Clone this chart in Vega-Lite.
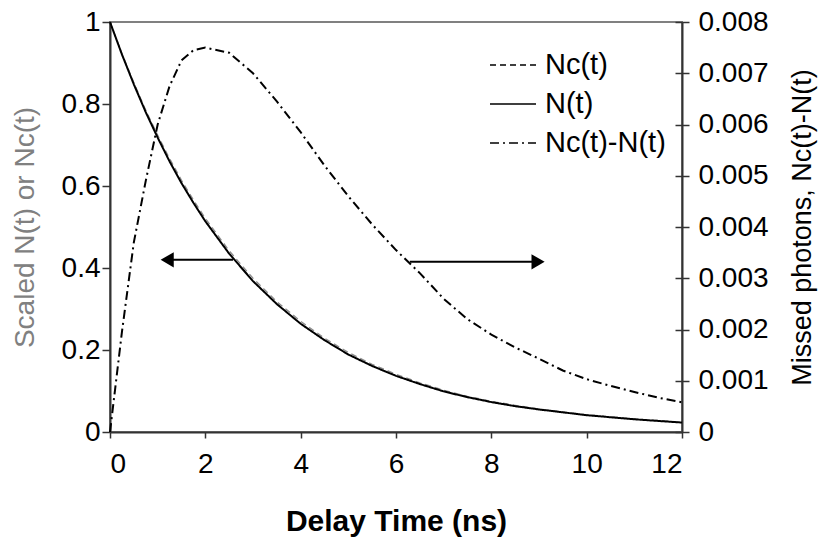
{
  "$schema": "https://vega.github.io/schema/vega-lite/v6.json",
  "width": 572,
  "height": 410,
  "autosize": {"type": "none"},
  "padding": {"left": 110, "top": 22, "right": 136, "bottom": 109},
  "background": "white",
  "config": {
    "font": "Liberation Sans",
    "view": {"stroke": "#808080", "strokeWidth": 2},
    "axis": {
      "grid": false,
      "domainColor": "#333333",
      "domainWidth": 2,
      "tickColor": "#333333",
      "tickWidth": 1.5,
      "labelColor": "black",
      "labelFont": "Liberation Sans",
      "labelFontSize": 28,
      "titleFont": "Liberation Sans",
      "titleFontSize": 27,
      "titleFontWeight": "normal",
      "titleColor": "black"
    }
  },
  "datasets": {
    "curves": [
      {"t": 0, "N": 1.0, "Nc": 1.0, "D": 0},
      {"t": 0.25, "N": 0.921, "Nc": 0.923, "D": 0.00195},
      {"t": 0.5, "N": 0.848, "Nc": 0.852, "D": 0.0037},
      {"t": 0.75, "N": 0.78, "Nc": 0.785, "D": 0.0049},
      {"t": 1, "N": 0.718, "Nc": 0.724, "D": 0.006},
      {"t": 1.25, "N": 0.66, "Nc": 0.667, "D": 0.00675},
      {"t": 1.5, "N": 0.607, "Nc": 0.614, "D": 0.00725},
      {"t": 1.75, "N": 0.559, "Nc": 0.566, "D": 0.00745},
      {"t": 2, "N": 0.514, "Nc": 0.521, "D": 0.0075},
      {"t": 2.5, "N": 0.435, "Nc": 0.442, "D": 0.0074},
      {"t": 3, "N": 0.368, "Nc": 0.375, "D": 0.007},
      {"t": 3.5, "N": 0.312, "Nc": 0.318, "D": 0.00645},
      {"t": 4, "N": 0.264, "Nc": 0.27, "D": 0.00585},
      {"t": 4.5, "N": 0.224, "Nc": 0.229, "D": 0.0052},
      {"t": 5, "N": 0.189, "Nc": 0.194, "D": 0.0046},
      {"t": 5.5, "N": 0.161, "Nc": 0.165, "D": 0.00405},
      {"t": 6, "N": 0.137, "Nc": 0.141, "D": 0.00355},
      {"t": 6.5, "N": 0.117, "Nc": 0.12, "D": 0.0031},
      {"t": 7, "N": 0.099, "Nc": 0.102, "D": 0.0026},
      {"t": 7.5, "N": 0.085, "Nc": 0.087, "D": 0.0022},
      {"t": 8, "N": 0.073, "Nc": 0.075, "D": 0.0019},
      {"t": 8.5, "N": 0.063, "Nc": 0.065, "D": 0.00165},
      {"t": 9, "N": 0.055, "Nc": 0.056, "D": 0.00143},
      {"t": 9.5, "N": 0.048, "Nc": 0.049, "D": 0.0012},
      {"t": 10, "N": 0.041, "Nc": 0.042, "D": 0.00103},
      {"t": 10.5, "N": 0.036, "Nc": 0.037, "D": 0.0009},
      {"t": 11, "N": 0.031, "Nc": 0.032, "D": 0.00078},
      {"t": 11.5, "N": 0.027, "Nc": 0.028, "D": 0.00067},
      {"t": 12, "N": 0.023, "Nc": 0.024, "D": 0.00058}
    ],
    "arrows": [
      {"from": 2.58, "to": 1.15, "level": 0.42, "tipAt": 1.2, "dir": "left"},
      {"from": 6.29, "to": 8.95, "level": 0.415, "tipAt": 8.98, "dir": "right"}
    ]
  },
  "layer": [
    {
      "layer": [
        {
          "data": {"name": "curves"},
          "mark": {"type": "line", "color": "#8c8c8c", "strokeWidth": 1.3},
          "encoding": {
            "x": {
              "field": "t",
              "type": "quantitative",
              "scale": {"domain": [0, 12], "nice": false},
              "axis": {
                "values": [0, 2, 4, 6, 8, 10, 12],
                "tickSize": 6,
                "labelPadding": 12,
                "title": "Delay Time (ns)",
                "titleFontWeight": "bold",
                "titleFontSize": 30,
                "titlePadding": 28
              }
            },
            "y": {
              "field": "Nc",
              "type": "quantitative",
              "scale": {"domain": [0, 1], "nice": false},
              "axis": {
                "values": [0, 0.2, 0.4, 0.6, 0.8, 1],
                "format": "~g",
                "tickSize": 8,
                "labelPadding": 2,
                "title": "Scaled N(t) or Nc(t)",
                "titleColor": "#808080",
                "titleFontSize": 28,
                "titlePadding": 22
              }
            },
            "strokeDash": {
              "datum": "Nc(t)",
              "type": "nominal",
              "scale": {
                "domain": ["Nc(t)", "N(t)", "Nc(t)-N(t)"],
                "range": [[6, 4], [1, 0], [9, 4, 2, 4]]
              },
              "legend": {
                "orient": "none",
                "legendX": 379,
                "legendY": 19,
                "title": null,
                "symbolType": "stroke",
                "symbolSize": 2116,
                "symbolStrokeWidth": 1.6,
                "symbolStrokeColor": "black",
                "labelFont": "Liberation Sans",
                "labelFontSize": 29,
                "labelColor": "black",
                "labelOffset": 8,
                "rowPadding": -40
              }
            }
          }
        },
        {
          "data": {"name": "curves"},
          "mark": {"type": "line", "color": "black", "strokeWidth": 2},
          "encoding": {
            "x": {"field": "t", "type": "quantitative"},
            "y": {"field": "N", "type": "quantitative"},
            "strokeDash": {"datum": "N(t)", "type": "nominal"}
          }
        },
        {
          "data": {"name": "arrows"},
          "mark": {"type": "rule", "color": "black", "strokeWidth": 2},
          "encoding": {
            "x": {"field": "from", "type": "quantitative"},
            "x2": {"field": "to"},
            "y": {"field": "level", "type": "quantitative"}
          }
        },
        {
          "data": {"name": "arrows"},
          "mark": {"type": "point", "filled": true, "color": "black", "opacity": 1, "size": 230},
          "encoding": {
            "x": {"field": "tipAt", "type": "quantitative"},
            "y": {"field": "level", "type": "quantitative"},
            "shape": {
              "field": "dir",
              "type": "nominal",
              "scale": {"domain": ["left", "right"], "range": ["triangle-left", "triangle-right"]},
              "legend": null
            }
          }
        }
      ]
    },
    {
      "data": {"name": "curves"},
      "mark": {"type": "line", "color": "black", "strokeWidth": 2},
      "encoding": {
        "x": {"field": "t", "type": "quantitative"},
        "y": {
          "field": "D",
          "type": "quantitative",
          "scale": {"domain": [0, 0.008], "nice": false},
          "axis": {
            "orient": "right",
            "values": [0, 0.001, 0.002, 0.003, 0.004, 0.005, 0.006, 0.007, 0.008],
            "format": "~g",
            "tickSize": 7,
            "labelPadding": 9,
            "grid": true,
            "gridDash": [7, 2000],
            "gridColor": "#333333",
            "gridWidth": 1.5,
            "gridOpacity": 1,
            "title": "Missed photons, Nc(t)-N(t)",
            "titleAngle": 270,
            "titleFontSize": 27,
            "titlePadding": 48
          }
        },
        "strokeDash": {"datum": "Nc(t)-N(t)", "type": "nominal"}
      }
    }
  ],
  "resolve": {"scale": {"y": "independent"}}
}
